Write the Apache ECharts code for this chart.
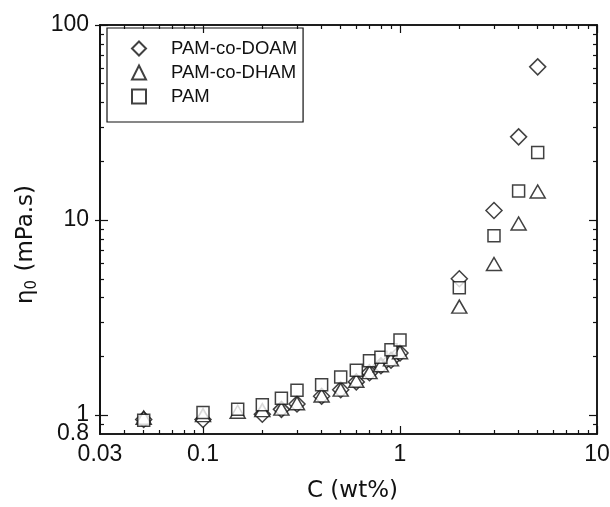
<!DOCTYPE html>
<html>
<head>
<meta charset="utf-8">
<script src="https://cdn.jsdelivr.net/npm/echarts@6/dist/echarts.min.js"></script>
<style>html,body{margin:0;padding:0;background:#fff}#c{width:610px;height:507px}</style>
</head>
<body>
<div id="c"></div>
<script>
const concentration = [0.05, 0.1, 0.15, 0.2, 0.25, 0.3, 0.4, 0.5, 0.6, 0.7, 0.8, 0.9, 1, 2, 3, 4, 5];
const pamDOAM = [0.95, 0.95, null, 1.01, 1.07, 1.14, 1.25, 1.35, 1.48, 1.65, 1.79, 1.91, 2.08, 5.0, 11.2, 26.7, 61];
const pamDHAM = [0.97, 1.0, 1.04, 1.06, 1.08, 1.15, 1.26, 1.35, 1.5, 1.66, 1.8, 1.93, 2.1, 3.6, 5.95, 9.6, 14.0];
const pam = [0.94, 1.03, 1.07, 1.13, 1.22, 1.34, 1.43, 1.57, 1.70, 1.90, 1.98, 2.16, 2.43, 4.5, 8.3, 14.1, 22.2];
const seriesNames = ['PAM-co-DOAM', 'PAM-co-DHAM', 'PAM'];
const xTickLabels = [0.03, 0.1, 1, 10];
const xMinorTicks = [0.04, 0.05, 0.06, 0.07, 0.08, 0.09, 0.2, 0.3, 0.4, 0.5, 0.6, 0.7, 0.8, 0.9, 2, 3, 4, 5, 6, 7, 8, 9];
const yTickLabels = [1, 10, 100];
const yMinLabel = [0.8];
const yMinorTicks = [0.9, 2, 3, 4, 5, 6, 7, 8, 9, 20, 30, 40, 50, 60, 70, 80, 90];

const FONT = 'Liberation Sans, Arial, sans-serif';
const TFONT = 'DejaVu Sans, sans-serif';
const fmt = v => String(+(+v).toPrecision(3));
const pair = (xs, ys) => xs.map((x, i) => ys[i] == null ? null : [x, ys[i]]).filter(d => d);

function xAx(pos, ticks, len, labels, name) {
  return {
    type: 'log', logBase: 10, min: 0.03, max: 10, position: pos,
    name: name || '', nameLocation: 'middle', nameGap: 46,
    nameTextStyle: {fontFamily: TFONT, fontSize: 23, color: '#111', padding: [0, 0, 0, 8]},
    axisLine: {show: true, onZero: false, lineStyle: {color: '#111', width: 1.5}},
    axisTick: {show: true, inside: true, length: len, customValues: ticks, lineStyle: {color: '#111', width: 1.2}},
    axisLabel: labels ? {show: true, customValues: labels, formatter: fmt, fontFamily: FONT, fontSize: 23, color: '#111', margin: 9, hideOverlap: false, interval: 0, showMinLabel: true, showMaxLabel: true} : {show: false},
    splitLine: {show: false}, minorTick: {show: false}
  };
}
function yAx(pos, ticks, len, labels, name, outside) {
  return {
    type: 'log', logBase: 10, min: 0.8, max: 100, position: pos,
    name: name || '', nameLocation: 'middle', nameGap: 58,
    nameTextStyle: {fontFamily: TFONT, fontSize: 23, color: '#111', padding: [0, 30, 0, 0],
      rich: {a: {fontFamily: TFONT, fontSize: 23, color: '#111'}, s: {fontFamily: TFONT, fontSize: 15, color: '#111', verticalAlign: 'bottom', padding: [12, 1, 0, 0]}}},
    axisLine: {show: true, onZero: false, lineStyle: {color: '#111', width: 1.5}},
    axisTick: {show: true, inside: !outside, length: len, customValues: ticks, lineStyle: {color: '#111', width: 1.2}},
    axisLabel: labels ? {show: true, customValues: labels, formatter: fmt, fontFamily: FONT, fontSize: 23, color: '#111', margin: 11, hideOverlap: false, interval: 0, showMinLabel: true, showMaxLabel: true} : {show: false},
    splitLine: {show: false}, minorTick: {show: false}
  };
}

const chart = echarts.init(document.getElementById('c'), null, {renderer: 'canvas'});
const sty = {color: '#fff', borderColor: '#111', borderWidth: 1.5};
chart.setOption({
  animation: false,
  backgroundColor: '#fff',
  grid: {left: 100, right: 13, top: 25, bottom: 73, containLabel: false, outerBoundsMode: 'none'},
  xAxis: [
    xAx('bottom', xTickLabels.slice(1), 8, xTickLabels, 'C (wt%)'),
    xAx('bottom', xMinorTicks, 4, null),
    xAx('top', xTickLabels.slice(1), 8, null),
    xAx('top', xMinorTicks, 4, null)
  ],
  yAxis: [
    yAx('left', yTickLabels, 8, yTickLabels, '{a|η}{s|0}{a| (mPa.s)}'),
    yAx('left', yMinorTicks, 4, yMinLabel),
    yAx('left', yTickLabels, 5, null, '', true),
    yAx('right', yTickLabels, 8, null),
    yAx('right', yMinorTicks, 4, null)
  ],
  legend: {
    orient: 'vertical', left: 107, top: 28,
    data: seriesNames,
    borderColor: '#111', borderWidth: 1.2, borderRadius: 0,
    padding: [11, 6, 16, 24], itemGap: 5, itemWidth: 14, itemHeight: 14,
    textStyle: {fontFamily: FONT, fontSize: 18.5, lineHeight: 19, color: '#111', padding: [0, 0, 0, 20]}
  },
  series: [
    {name: seriesNames[0], type: 'scatter', symbol: 'diamond', symbolSize: [16, 16], itemStyle: sty, data: pair(concentration, pamDOAM)},
    {name: seriesNames[1], type: 'scatter', symbol: 'triangle', symbolSize: [15, 13], itemStyle: sty, data: pair(concentration, pamDHAM)},
    {name: seriesNames[2], type: 'scatter', symbol: 'rect', symbolSize: [12, 12], itemStyle: sty, data: pair(concentration, pam)}
  ]
});
</script>
</body>
</html>
